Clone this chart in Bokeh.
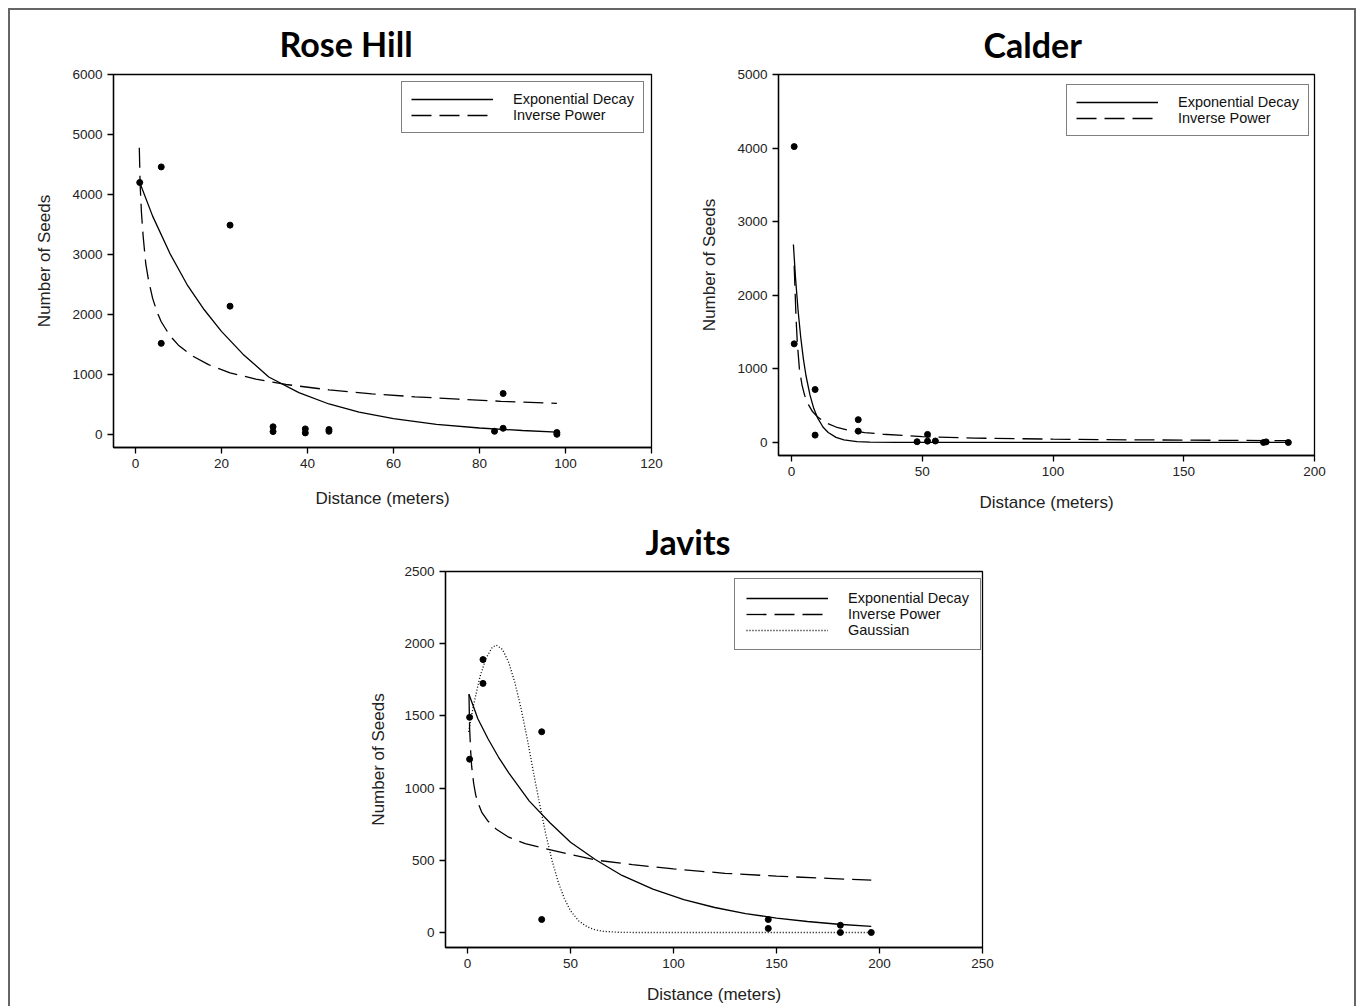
from bokeh.plotting import figure
from bokeh.layouts import column, row
from bokeh.models import Legend, LegendItem, FixedTicker, Range1d, Spacer
from bokeh.embed import file_html
from bokeh.resources import INLINE

# ---------------- Rose Hill ----------------
rh_pts_x = [1, 6, 22, 22, 6, 32, 32, 39.5, 39.5, 45, 45, 83.5, 85.5, 85.5, 98, 98]
rh_pts_y = [4200, 4460, 3490, 2140, 1520, 130, 50, 95, 28, 85, 55, 55, 685, 105, 35, 5]
rh_exp_x = [1, 4, 8, 12, 16, 20, 25, 31, 38, 45, 52, 60, 70, 80, 90, 98]
rh_exp_y = [4200, 3640, 3020, 2500, 2080, 1720, 1340, 960, 700, 510, 375, 265, 170, 110, 68, 42]
rh_pow_x = [0.9, 1.1, 1.4, 1.8, 2.4, 3, 4, 5, 6, 8, 10, 13, 17, 22, 28, 35, 45, 55, 65, 75, 85, 98]
rh_pow_y = [4780, 4150, 3700, 3300, 2850, 2590, 2270, 2050, 1880, 1650, 1490, 1320, 1165, 1030, 925, 835, 745, 680, 630, 590, 555, 520]
rh_xticks = [0, 20, 40, 60, 80, 100, 120]
rh_yticks = [0, 1000, 2000, 3000, 4000, 5000, 6000]

# ---------------- Calder ----------------
ca_pts_x = [1, 1, 9, 9, 25.5, 25.5, 48, 52, 52, 55, 180.5, 181.5, 190]
ca_pts_y = [4020, 1340, 720, 100, 310, 154, 10, 110, 18, 20, 0, 8, 0]
ca_exp_x = [0.7, 1.5, 2.5, 3.5, 4.5, 5.5, 7, 8.5, 10, 12, 14, 17, 20, 25, 30, 40, 60, 100, 150, 190]
ca_exp_y = [2690, 2240, 1790, 1430, 1140, 910, 650, 460, 330, 210, 135, 70, 35, 12, 4, 0, 0, 0, 0, 0]
ca_pow_x = [1, 1.3, 1.7, 2.2, 3, 4, 5, 6.5, 8, 10, 13, 17, 22, 28, 35, 50, 70, 100, 130, 160, 190]
ca_pow_y = [2400, 2100, 1700, 1350, 1000, 780, 640, 510, 420, 345, 270, 210, 165, 135, 112, 80, 60, 45, 36, 30, 25]
ca_xticks = [0, 50, 100, 150, 200]
ca_yticks = [0, 1000, 2000, 3000, 4000, 5000]

# ---------------- Javits ----------------
ja_pts_x = [1, 1, 7.5, 7.5, 36, 36, 146, 146, 181, 181, 196]
ja_pts_y = [1490, 1200, 1890, 1725, 1390, 90, 90, 28, 50, 0, 0]
ja_exp_x = [0.7, 5, 10, 15, 20, 30, 40, 50, 62, 75, 90, 105, 120, 135, 150, 165, 180, 196]
ja_exp_y = [1650, 1480, 1340, 1215, 1105, 910, 760, 625, 505, 395, 300, 228, 173, 131, 100, 76, 57, 42]
ja_pow_x = [0.7, 1, 1.5, 2, 3, 4, 5, 7, 10, 14, 20, 28, 38, 50, 63, 80, 100, 125, 150, 175, 196]
ja_pow_y = [1650, 1420, 1260, 1150, 1030, 950, 900, 830, 770, 715, 660, 615, 580, 540, 500, 470, 440, 410, 390, 375, 362]
ja_gau_x = [0.5, 3, 6, 9, 12, 14, 17, 20, 23, 26, 29, 32, 35, 38, 41, 44, 47, 50, 54, 58, 62, 66, 72, 80, 100, 140, 196]
ja_gau_y = [1390, 1580, 1770, 1900, 1975, 1990, 1960, 1870, 1730, 1550, 1340, 1110, 890, 680, 500, 350, 235, 150, 80, 40, 18, 8, 2, 0, 0, 0, 0]
ja_xticks = [0, 50, 100, 150, 200, 250]
ja_yticks = [0, 500, 1000, 1500, 2000, 2500]

TICK_FONT = "Liberation Sans"
TITLE_FONT = "Lato"


def panel(title, toff, tstand, w, h, bl, br, bt, bb, xr, yr, xt, yt, pts, curves,
          leg_xy, leg_pad, xstand, ystand):
    p = figure(width=w, height=h, min_border_left=bl, min_border_right=br,
               min_border_top=bt, min_border_bottom=bb,
               x_range=Range1d(*xr), y_range=Range1d(*yr),
               output_backend="svg", toolbar_location=None, tools="")
    p.grid.visible = False
    p.background_fill_color = "white"
    p.border_fill_color = "white"
    p.border_fill_alpha = 0.0
    p.outline_line_color = "black"
    p.outline_line_width = 1.3
    for ax, ticks, lab, st in ((p.xaxis, xt, "Distance (meters)", xstand),
                               (p.yaxis, yt, "Number of Seeds", ystand)):
        ax.ticker = FixedTicker(ticks=ticks)
        ax.minor_tick_line_color = None
        ax.major_tick_in = 0
        ax.major_tick_out = 6
        ax.major_tick_line_width = 1.3
        ax.axis_line_width = 1.3
        ax.axis_line_color = "black"
        ax.major_label_text_font = TICK_FONT
        ax.major_label_text_font_size = "13.5px"
        ax.major_label_text_color = "#222222"
        ax.axis_label = lab
        ax.axis_label_text_font = TICK_FONT
        ax.axis_label_text_font_size = "17px"
        ax.axis_label_text_font_style = "normal"
        ax.axis_label_text_color = "#222222"
        ax.axis_label_standoff = st
    p.yaxis.major_label_orientation = "horizontal"

    p.title.text = title
    p.title.align = "left"
    p.title.offset = toff
    p.title.standoff = tstand
    p.title.text_font = TITLE_FONT
    p.title.text_font_size = "34px"
    p.title.text_font_style = "bold"
    p.title.text_color = "black"

    p.scatter(pts[0], pts[1], size=6, color="black")
    items = []
    for name, cx, cy, dash in curves:
        r = p.line(cx, cy, line_color="black", line_width=1.3, line_dash=dash)
        items.append(LegendItem(label=name, renderers=[r]))
    leg = Legend(items=items, location=leg_xy, glyph_width=82, glyph_height=16,
                 label_height=16, label_standoff=20, padding=leg_pad, spacing=0,
                 margin=0, border_line_color="black", border_line_width=1.5,
                 label_text_font=TICK_FONT, label_text_font_size="14.5px",
                 label_text_color="#111111", background_fill_color="white",
                 background_fill_alpha=1.0)
    p.add_layout(leg)
    return p


f1 = panel("Rose Hill", 166, 21, 680, 500, 103, 39, 64, 63,
           (-5.1, 120), (-215, 6000), rh_xticks, rh_yticks,
           (rh_pts_x, rh_pts_y),
           [("Exponential Decay", rh_exp_x, rh_exp_y, "solid"),
            ("Inverse Power", rh_pow_x, rh_pow_y, "20 8")],
           (288, 314), 9, 18, 15)

f2 = panel("Calder", 205, 20, 664, 508, 88, 40, 64, 63,
           (-5, 200), (-177, 5000), ca_xticks, ca_yticks,
           (ca_pts_x, ca_pts_y),
           [("Exponential Decay", ca_exp_x, ca_exp_y, "solid"),
            ("Inverse Power", ca_pow_x, ca_pow_y, "20 8")],
           (288, 319), 9, 14, 15)

f3 = panel("Javits", 200, 20, 680, 498, 95, 48, 63, 59,
           (-10.7, 250), (-104, 2500), ja_xticks, ja_yticks,
           (ja_pts_x, ja_pts_y),
           [("Exponential Decay", ja_exp_x, ja_exp_y, "solid"),
            ("Inverse Power", ja_pow_x, ja_pow_y, "20 8"),
            ("Gaussian", ja_gau_x, ja_gau_y, "1 2")],
           (289, 297), 11, 14, 13)

bottom_row = row(Spacer(width=340, height=10), f3, margin=(-10, 0, 0, 0))
layout = column(row(f1, f2), bottom_row,
                margin=(8, 0, 0, 8),
                styles={"border-left": "2px solid #666666",
                        "border-top": "2px solid #666666",
                        "border-right": "2px solid #666666"})

open("out.html", "w").write(file_html(layout, INLINE))
